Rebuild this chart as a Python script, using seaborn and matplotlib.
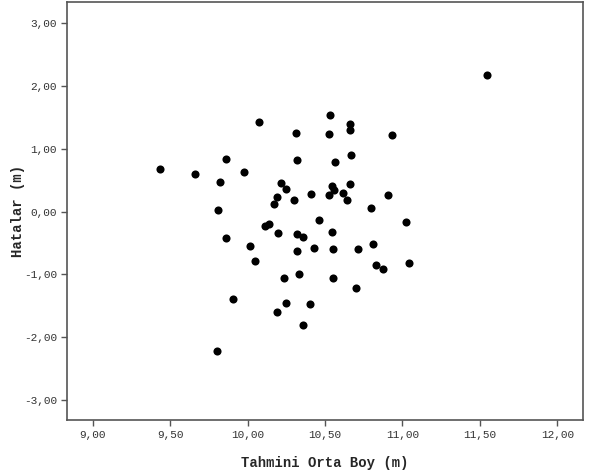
import numpy as np
import pandas as pd
import matplotlib
matplotlib.use('Agg')
import matplotlib.pyplot as plt
from matplotlib.ticker import FuncFormatter
import seaborn as sns

# predicted mean height (m) and residuals (m)
tahmini = [9.437, 9.659, 9.820, 9.863, 9.975, 10.076, 10.311, 10.322, 9.809, 10.215,
           10.245, 10.190, 10.170, 10.300, 10.113, 10.140, 10.199, 10.318, 10.356, 9.863,
           11.545, 10.535, 10.662, 10.662, 10.527, 10.934, 10.565, 10.667, 10.544, 10.557,
           10.662, 10.408, 10.527, 10.619, 10.645, 10.910, 10.800, 10.460, 11.026, 10.546,
           10.016, 10.048, 10.234, 10.333, 9.908, 10.249, 10.190, 9.801, 10.322, 10.357,
           10.430, 10.550, 10.710, 10.810, 10.830, 10.875, 11.040, 10.550, 10.700, 10.404]
hatalar = [0.68, 0.60, 0.47, 0.84, 0.63, 1.43, 1.26, 0.82, 0.03, 0.45,
           0.36, 0.23, 0.12, 0.19, -0.23, -0.19, -0.34, -0.36, -0.41, -0.42,
           2.18, 1.54, 1.40, 1.30, 1.24, 1.22, 0.79, 0.90, 0.41, 0.35,
           0.44, 0.28, 0.26, 0.29, 0.19, 0.27, 0.06, -0.13, -0.16, -0.32,
           -0.55, -0.79, -1.05, -0.99, -1.39, -1.46, -1.60, -2.22, -0.62, -1.80,
           -0.58, -0.59, -0.59, -0.52, -0.85, -0.91, -0.82, -1.06, -1.22, -1.47]
x_ticks = [9.0, 9.5, 10.0, 10.5, 11.0, 11.5, 12.0]
y_ticks = [-3.0, -2.0, -1.0, 0.0, 1.0, 2.0, 3.0]

df = pd.DataFrame({'Tahmini Orta Boy (m)': tahmini, 'Hatalar (m)': hatalar})

sns.set_style('ticks')
plt.rcParams['font.family'] = ['Liberation Mono', 'DejaVu Sans Mono']

fig = plt.figure(figsize=(5.91, 4.70), dpi=100)
ax = fig.add_axes([0.1129, 0.1064, 0.873, 0.8893])

sns.scatterplot(data=df, x='Tahmini Orta Boy (m)', y='Hatalar (m)', ax=ax,
                color='black', s=34, linewidth=0, legend=False)

ax.set_xlim(8.832, 12.164)
ax.set_ylim(-3.32, 3.34)
ax.set_xticks(x_ticks)
ax.set_yticks(y_ticks)
comma = FuncFormatter(lambda v, p: f'{v:.2f}'.replace('.', ','))
ax.xaxis.set_major_formatter(comma)
ax.yaxis.set_major_formatter(comma)
ax.tick_params(axis='both', direction='out', length=4, width=1, color='#555555',
               labelsize=8, labelcolor='#333333', pad=3)

for side in ax.spines.values():
    side.set_color('#555555')
    side.set_linewidth(1.2)

ax.set_xlabel('Tahmini Orta Boy (m)', fontsize=10, fontweight='bold', labelpad=12)
ax.set_ylabel('Hatalar (m)', fontsize=10, fontweight='bold')
ax.yaxis.set_label_coords(-0.08, 0.5)

plt.savefig('out.png', dpi=100)
